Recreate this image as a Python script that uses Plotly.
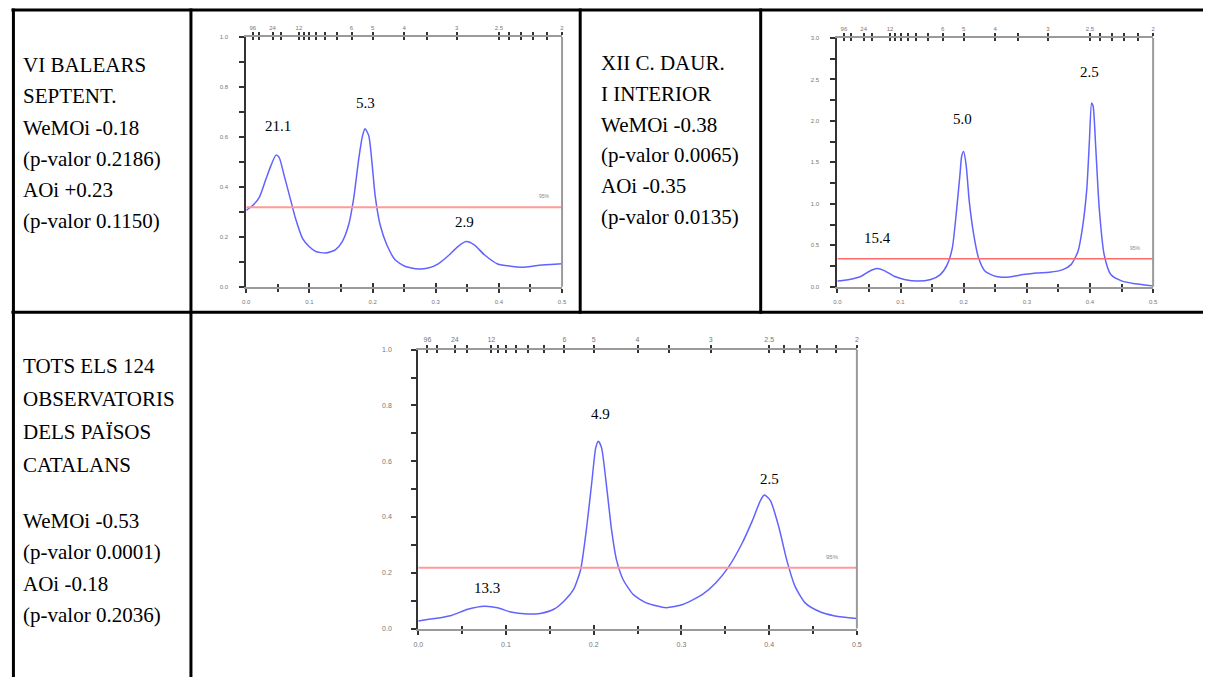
import numpy as np
import plotly.graph_objects as go

# ---------------- data ----------------
# Chart 1: VI BALEARS SEPTENT.
freq1 = [0, 0.0105, 0.021, 0.031, 0.039, 0.047, 0.052, 0.06, 0.071, 0.078,
         0.089, 0.0995, 0.11, 0.126, 0.141, 0.152, 0.162, 0.17, 0.178, 0.184,
         0.188, 0.194, 0.199, 0.204, 0.212, 0.2225, 0.2356, 0.251, 0.272, 0.288,
         0.304, 0.319, 0.335, 0.348, 0.361, 0.377, 0.398, 0.419, 0.437, 0.461,
         0.482, 0.5]
spec1 = [0.306, 0.326, 0.36, 0.43, 0.485, 0.527, 0.518, 0.445, 0.34, 0.273,
         0.194, 0.161, 0.141, 0.135, 0.148, 0.181, 0.247, 0.353, 0.511, 0.604,
         0.633, 0.604, 0.498, 0.366, 0.247, 0.168, 0.108, 0.082, 0.071, 0.075,
         0.092, 0.122, 0.161, 0.181, 0.168, 0.128, 0.091, 0.082, 0.078, 0.085,
         0.089, 0.092]
sig1 = 0.318
peaks1 = ["21.1", "5.3", "2.9"]

# Chart 2: XII C. DAUR. I INTERIOR
freq2 = [0, 0.0168, 0.0377, 0.0508, 0.0628, 0.0743, 0.09, 0.106, 0.127, 0.148,
         0.163, 0.174, 0.182, 0.188, 0.194, 0.197, 0.2, 0.204, 0.209, 0.216,
         0.2236, 0.234, 0.252, 0.273, 0.294, 0.315, 0.336, 0.357, 0.37, 0.381,
         0.388, 0.395, 0.399, 0.4026, 0.405, 0.409, 0.4147, 0.4225, 0.433, 0.451,
         0.472, 0.5]
spec2 = [0.068, 0.084, 0.127, 0.187, 0.219, 0.195, 0.127, 0.088, 0.068, 0.088,
         0.147, 0.267, 0.466, 0.863, 1.34, 1.58, 1.63, 1.46, 1.02, 0.625,
         0.346, 0.187, 0.123, 0.119, 0.147, 0.167, 0.175, 0.207, 0.267, 0.426,
         0.704, 1.18, 1.74, 2.216, 2.18, 1.70, 0.943, 0.386, 0.147, 0.068,
         0.036, 0.008]
sig2 = 0.338
peaks2 = ["15.4", "5.0", "2.5"]

# Chart 3: TOTS ELS 124 OBSERVATORIS
freq3 = [0, 0.0188, 0.0377, 0.0565, 0.0754, 0.0904, 0.1055, 0.124, 0.139, 0.1545,
         0.166, 0.177, 0.185, 0.192, 0.198, 0.2023, 0.2053, 0.209, 0.2148, 0.2204,
         0.226, 0.2336, 0.245, 0.26, 0.2826, 0.3014, 0.324, 0.339, 0.354, 0.369,
         0.381, 0.39, 0.3945, 0.4014, 0.411, 0.42, 0.4295, 0.441, 0.456, 0.475,
         0.5]
spec3 = [0.027, 0.0355, 0.047, 0.069, 0.080, 0.0746, 0.059, 0.052, 0.054, 0.069,
         0.098, 0.14, 0.21, 0.364, 0.53, 0.648, 0.672, 0.648, 0.506, 0.353,
         0.246, 0.175, 0.122, 0.092, 0.0746, 0.086, 0.122, 0.163, 0.222, 0.305,
         0.388, 0.459, 0.479, 0.459, 0.364, 0.246, 0.151, 0.092, 0.063, 0.045,
         0.0355]
sig3 = 0.218
peaks3 = ["13.3", "4.9", "2.5"]

# Period axis (top)
top_periods = [96, 48, 24, 18, 12, 11, 10, 9, 8, 7, 6, 5, 4, 3.5, 3, 2.5, 2.4, 2.3, 2.2, 2.1, 2]
top_labels = ["96", "", "24", "", "12", "", "", "", "", "", "6", "5", "4", "", "3", "2.5", "", "", "", "", "2"]

# Table texts
text1 = ["VI BALEARS", "SEPTENT.", "WeMOi -0.18", "(p-valor 0.2186)", "AOi +0.23", "(p-valor 0.1150)"]
text2 = ["XII C. DAUR.", "I INTERIOR", "WeMOi -0.38", "(p-valor 0.0065)", "AOi -0.35", "(p-valor 0.0135)"]
text3 = ["TOTS ELS 124", "OBSERVATORIS", "DELS PAÏSOS", "CATALANS", "",
         "WeMOi -0.53", "(p-valor 0.0001)", "AOi -0.18", "(p-valor 0.2036)"]

# ---------------- layout helpers ----------------
W, H = 1208, 680
fx = lambda px: px / W
fy = lambda py: 1 - py / H

SERIF = "Liberation Serif, Times New Roman, serif"
SANS = "Liberation Sans, Arial, sans-serif"
TICKC = "#333333"
BOXC = "#9a9a9a"

charts = [
    dict(freq=freq1, spec=spec1, sig=sig1, peaks=peaks1, ymax=1.0, ydt=0.2, ymin=0.1,
         box=(243.3, 33.3, 561.7, 285.7), fs=6, sigc="#ff9a9a", sigw=2,
         shifts=[29, 26, 20], xsh=[2, 0, 0], stand=10),
    dict(freq=freq2, spec=spec2, sig=sig2, peaks=peaks2, ymax=3.0, ydt=0.5, ymin=0.25,
         box=(839.3, 34.3, 1157.7, 285.7), fs=6, sigc="#ff6b6b", sigw=1.3,
         shifts=[31, 33, 31], xsh=[-1, -1, 0], stand=10),
    dict(freq=freq3, spec=spec3, sig=sig3, peaks=peaks3, ymax=1.0, ydt=0.2, ymin=0.1,
         box=(416.7, 349.3, 859.0, 631.0), fs=7, sigc="#ff9a9a", sigw=2,
         shifts=[18, 27, 16], xsh=[3, 3, 0], stand=18),
]

fig = go.Figure()
layout = dict(width=W, height=H, margin=dict(l=0, r=0, t=0, b=0),
              paper_bgcolor="white", plot_bgcolor="white", showlegend=False)
annotations = []
shapes = []


def axname(n, letter):
    return letter if n == 1 else f"{letter}{n}"


for i, c in enumerate(charts):
    base = 4 * i
    xb, xbi, xt, xti = base + 1, base + 2, base + 3, base + 4
    yi = i + 1
    xbn = axname(xb, "x")
    yn = axname(yi, "y")
    x0, y0, x1, y1 = c["box"]
    dom_x = [fx(x0), fx(x1)]
    dom_y = [fy(y1), fy(y0)]

    fig.add_trace(go.Scatter(x=c["freq"], y=c["spec"], mode="lines",
                             line=dict(color="#6262ff", width=1.5, shape="spline", smoothing=0.6),
                             xaxis=xbn, yaxis=yn, hoverinfo="skip"))
    fig.add_trace(go.Scatter(x=[0, 0.5], y=[c["sig"], c["sig"]], mode="lines",
                             line=dict(color=c["sigc"], width=c["sigw"]),
                             xaxis=xbn, yaxis=yn, hoverinfo="skip"))
    for n in (xbi, xt, xti):
        fig.add_trace(go.Scatter(x=[0.25], y=[0], mode="markers", marker=dict(opacity=0),
                                 xaxis=axname(n, "x"), yaxis=yn, hoverinfo="skip"))

    tick_font = dict(family=SANS, size=c["fs"], color="#777777")
    common = dict(range=[0, 0.5], showgrid=False, zeroline=False, fixedrange=True)
    layout[axname(xb, "xaxis")] = dict(
        domain=dom_x, anchor=yn, tick0=0, dtick=0.1, tickformat=".1f",
        showline=True, linecolor=BOXC, linewidth=2,
        ticks="outside", ticklen=4, tickwidth=1.5, tickcolor=TICKC,
        minor=dict(ticks="outside", dtick=0.05, ticklen=3, tickwidth=1.5, tickcolor=TICKC),
        tickfont=tick_font, ticklabelstandoff=4, **common)
    layout[axname(xbi, "xaxis")] = dict(
        overlaying=xbn, side="bottom", anchor=yn, tick0=0, dtick=0.1, showticklabels=False,
        showline=False, ticks="inside", ticklen=4, tickwidth=1.5, tickcolor=TICKC,
        minor=dict(ticks="inside", dtick=0.05, ticklen=3, tickwidth=1.5, tickcolor=TICKC),
        **common)
    tv = [1 / p for p in top_periods]
    layout[axname(xt, "xaxis")] = dict(
        overlaying=xbn, side="top", anchor=yn,
        tickmode="array", tickvals=tv, ticktext=top_labels,
        showline=True, linecolor=BOXC, linewidth=2,
        ticks="outside", ticklen=3, tickwidth=1.5, tickcolor=TICKC,
        tickfont=tick_font, **common)
    layout[axname(xti, "xaxis")] = dict(
        overlaying=xbn, side="top", anchor=yn,
        tickmode="array", tickvals=tv, showticklabels=False, showline=False,
        ticks="inside", ticklen=3, tickwidth=1.5, tickcolor=TICKC, **common)
    layout[axname(yi, "yaxis")] = dict(
        domain=dom_y, anchor=xbn, range=[0, c["ymax"]], tick0=0, dtick=c["ydt"], tickformat=".1f",
        showgrid=False, zeroline=False, showline=True, linecolor=TICKC, linewidth=2,
        ticks="outside", ticklen=5, tickwidth=1.5, tickcolor=TICKC,
        minor=dict(ticks="outside", dtick=c["ymin"], ticklen=5, tickwidth=1.5, tickcolor=TICKC),
        tickfont=tick_font, ticklabelstandoff=c["stand"], fixedrange=True)

    shapes.append(dict(type="line", xref=f"{xbn} domain", yref=f"{yn} domain",
                       x0=1, x1=1, y0=0, y1=1, line=dict(color=BOXC, width=2)))

    fa = np.array(c["freq"])
    sa = np.array(c["spec"])
    for k, lab in enumerate(c["peaks"]):
        pf = 1 / float(lab)
        win = np.abs(fa - pf) <= 0.012
        pv = float(sa[win].max()) if win.any() else float(np.interp(pf, fa, sa))
        annotations.append(dict(x=pf, y=pv, xref=xbn, yref=yn, text=lab, showarrow=False,
                                yshift=c["shifts"][k], xshift=c["xsh"][k],
                                font=dict(family=SERIF, size=15, color="black")))
    annotations.append(dict(x=0.472, y=c["sig"], xref=xbn, yref=yn, text="95%", showarrow=False,
                            yshift=11, font=dict(family=SANS, size=c["fs"] - 1, color="#888888")))


def hline(y, xa, xb_):
    shapes.append(dict(type="line", xref="paper", yref="paper", x0=fx(xa), x1=fx(xb_),
                       y0=fy(y), y1=fy(y), line=dict(color="black", width=3)))


def vline(x, ya, yb):
    shapes.append(dict(type="line", xref="paper", yref="paper", x0=fx(x), x1=fx(x),
                       y0=fy(ya), y1=fy(yb), line=dict(color="black", width=3)))


hline(6, 6.5, W)
hline(311.5, 6.5, W)
vline(8.5, 4.5, H)
vline(187.5, 4.5, H)
vline(580, 4.5, 313)
vline(762, 4.5, 313)


def add_lines(lines, x, ys):
    for t, yy in zip(lines, ys):
        if t:
            annotations.append(dict(x=fx(x), y=fy(yy), xref="paper", yref="paper", text=t,
                                    showarrow=False, xanchor="left", yanchor="middle",
                                    font=dict(family=SERIF, size=21, color="black")))


add_lines(text1, 16, [62 + 31.4 * k for k in range(6)])
add_lines(text2, 599, [60 + 31 * k for k in range(6)])
add_lines(text3, 16, [366, 399, 432, 465.5, 494, 522, 554, 586, 617])

layout["annotations"] = annotations
layout["shapes"] = shapes
fig.update_layout(**layout)
fig.write_html("out.html", config={"displayModeBar": False},
               post_script="document.body.style.margin='0';")
